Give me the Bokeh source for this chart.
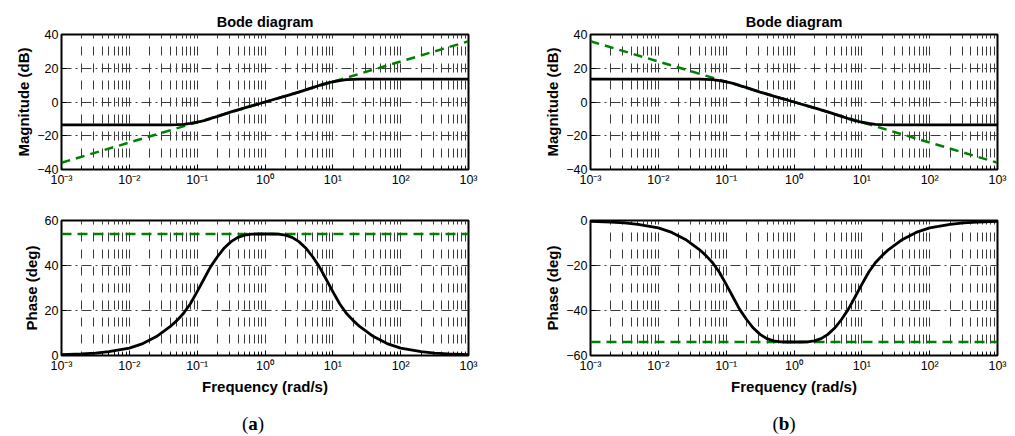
from bokeh.plotting import figure
from bokeh.layouts import column, row
from bokeh.models import FixedTicker, CustomJSTickFormatter, Div, Range1d
from bokeh.embed import file_html
from bokeh.resources import INLINE

# ---------------- data ----------------
freq = [0.001, 0.002, 0.00316, 0.005, 0.01, 0.0158, 0.0251, 0.0398, 0.0501, 0.0631, 0.0794,
        0.1, 0.126, 0.158, 0.2, 0.251, 0.316, 0.398, 0.501, 0.631, 0.794,
        1.0,
        1.26, 1.58, 2.0, 2.51, 3.16, 3.98, 5.01, 6.31, 7.94, 10.0,
        12.6, 15.8, 20.0, 25.1, 39.8, 63.1, 100.0, 200.0, 316.0, 500.0, 1000.0]

mag_a = [-13.6, -13.6, -13.6, -13.6, -13.6, -13.6, -13.6, -13.5, -13.4, -13.2, -12.7,
         -12.0, -11.0, -9.8, -8.5, -7.2, -5.9, -4.7, -3.5, -2.3, -1.2,
         0.0,
         1.2, 2.3, 3.5, 4.7, 5.9, 7.2, 8.5, 9.8, 11.0, 12.0,
         12.7, 13.2, 13.4, 13.5, 13.6, 13.6, 13.6, 13.6, 13.6, 13.6, 13.6]
phase_a = [0.35, 0.7, 1.1, 1.7, 3.3, 5.3, 8.4, 12.8, 15.5, 18.8, 23.0,
           28.4, 34.0, 39.5, 44.0, 47.8, 50.6, 52.5, 53.5, 53.9, 54.0,
           54.0,
           54.0, 53.9, 53.5, 52.5, 50.6, 47.8, 44.0, 39.5, 34.0, 28.4,
           23.0, 18.8, 15.5, 12.8, 8.4, 5.3, 3.3, 1.7, 1.1, 0.7, 0.35]

mag_b = [13.6, 13.6, 13.6, 13.6, 13.6, 13.6, 13.6, 13.5, 13.4, 13.2, 12.7,
         12.0, 11.0, 9.8, 8.5, 7.2, 5.9, 4.7, 3.5, 2.3, 1.2,
         0.0,
         -1.2, -2.3, -3.5, -4.7, -5.9, -7.2, -8.5, -9.8, -11.0, -12.0,
         -12.7, -13.2, -13.4, -13.5, -13.6, -13.6, -13.6, -13.6, -13.6, -13.6, -13.6]
phase_b = [-0.35, -0.7, -1.1, -1.7, -3.3, -5.3, -8.4, -12.8, -15.5, -18.8, -23.0,
           -28.4, -34.0, -39.5, -44.0, -47.8, -50.6, -52.5, -53.5, -53.9, -54.0,
           -54.0,
           -54.0, -53.9, -53.5, -52.5, -50.6, -47.8, -44.0, -39.5, -34.0, -28.4,
           -23.0, -18.8, -15.5, -12.8, -8.4, -5.3, -3.3, -1.7, -1.1, -0.7, -0.35]

ideal_freq = [0.001, 1000.0]
ideal_mag_a = [-36.0, 36.0]
ideal_phase_a = [54.0, 54.0]
ideal_mag_b = [36.0, -36.0]
ideal_phase_b = [-54.0, -54.0]

decade_ticks = [0.001, 0.01, 0.1, 1.0, 10.0, 100.0, 1000.0]
minor_x_ticks = [m * 10.0 ** k for k in range(-3, 3) for m in range(2, 10)]
mag_ticks = [-40, -20, 0, 20, 40]
phase_ticks_a = [0, 20, 40, 60]
phase_ticks_b = [-60, -40, -20, 0]

title_text = "Bode diagram"
mag_label = "Magnitude (dB)"
phase_label = "Phase (deg)"
freq_label = "Frequency (rad/s)"

FONT = "Liberation Sans"
GREEN = "#008000"
GRID = "#3a3a3a"

xfmt_code = """
const e = Math.round(Math.log10(tick));
const sup = {"-": "\u207b", "0": "\u2070", "1": "\u00b9", "2": "\u00b2", "3": "\u00b3",
             "4": "\u2074", "5": "\u2075", "6": "\u2076", "7": "\u2077", "8": "\u2078", "9": "\u2079"};
let s = "";
for (const c of String(e)) s += sup[c];
return "10" + s;
"""
yfmt_code = """
return tick < 0 ? "\u2212" + (-tick) : "" + tick;
"""


def panel(width, height, left, right, top, bottom, yr, yticks, title=None, xlabel=None, ylabel=None):
    p = figure(width=width, height=height, x_axis_type="log",
               x_range=Range1d(0.001, 1000), y_range=Range1d(*yr),
               output_backend="svg", toolbar_location=None,
               min_border_left=left, min_border_right=right,
               min_border_top=top, min_border_bottom=bottom)
    p.background_fill_color = "white"
    p.border_fill_color = "white"
    p.outline_line_color = "black"
    p.outline_line_width = 2
    if title:
        p.title.text = title
        p.title.align = "center"
        p.title.text_font = FONT
        p.title.text_font_size = "14.5px"
        p.title.text_font_style = "bold"
        p.title.text_color = "black"
        p.title.standoff = 10

    xt = FixedTicker(ticks=decade_ticks, minor_ticks=minor_x_ticks)
    p.xaxis.ticker = xt
    p.xaxis.formatter = CustomJSTickFormatter(code=xfmt_code)
    p.yaxis.ticker = FixedTicker(ticks=yticks)
    p.yaxis.formatter = CustomJSTickFormatter(code=yfmt_code)
    for ax in (p.xaxis[0], p.yaxis[0]):
        ax.axis_line_color = None
        ax.major_tick_in = 5
        ax.major_tick_out = 0
        ax.minor_tick_in = 3
        ax.minor_tick_out = 0
        ax.major_tick_line_color = "black"
        ax.minor_tick_line_color = "black"
        ax.major_label_text_font = FONT
        ax.major_label_text_font_size = "12.5px"
        ax.major_label_text_color = "black"
        ax.major_label_standoff = 3
        ax.axis_label_text_font = FONT
        ax.axis_label_text_font_size = "15px"
        ax.axis_label_text_font_style = "bold"
        ax.axis_label_text_color = "black"
        ax.axis_label_standoff = 2
    p.yaxis.minor_tick_line_color = None
    if xlabel:
        p.xaxis.axis_label = xlabel
    if ylabel:
        p.yaxis.axis_label = ylabel

    p.xgrid.ticker = xt
    p.xgrid.grid_line_color = GRID
    p.xgrid.grid_line_width = 1
    p.xgrid.grid_line_dash = "9 8"
    p.xgrid.grid_line_dash_offset = 5
    p.xgrid.minor_grid_line_color = GRID
    p.xgrid.minor_grid_line_width = 1
    p.xgrid.minor_grid_line_dash = "9 8"
    p.xgrid.minor_grid_line_dash_offset = 5
    p.ygrid.ticker = FixedTicker(ticks=yticks)
    p.ygrid.grid_line_color = GRID
    p.ygrid.grid_line_width = 1
    p.ygrid.grid_line_dash = "10 4 2 4"
    return p


def caption(letter, width):
    html = ('<div style="width:%dpx;text-align:center;font-family:\'Liberation Serif\',serif;'
            'font-size:19px;line-height:20px;color:black;padding-top:9px">(<b>%s</b>)</div>' % (width, letter))
    return Div(text=html, width=width, height=36)


# ---- column (a)
fa1 = panel(530, 192, 61, 62, 34, 23, (-40, 40), mag_ticks, title=title_text, ylabel=mag_label)
fa1.line(ideal_freq, ideal_mag_a, line_color=GREEN, line_width=2.5, line_dash="9 6")
fa1.line(freq, mag_a, line_color="black", line_width=2.8)

fa2 = panel(530, 208, 61, 62, 28, 45, (0, 60), phase_ticks_a, xlabel=freq_label, ylabel=phase_label)
fa2.line(ideal_freq, ideal_phase_a, line_color=GREEN, line_width=2.5, line_dash="10 6")
fa2.line(freq, phase_a, line_color="black", line_width=2.8)

# ---- column (b)
fb1 = panel(485, 192, 60, 18, 34, 23, (-40, 40), mag_ticks, title=title_text, ylabel=mag_label)
fb1.line(ideal_freq, ideal_mag_b, line_color=GREEN, line_width=2.5, line_dash="9 6")
fb1.line(freq, mag_b, line_color="black", line_width=2.8)

fb2 = panel(485, 208, 60, 18, 28, 45, (-60, 0), phase_ticks_b, xlabel=freq_label, ylabel=phase_label)
fb2.line(ideal_freq, ideal_phase_b, line_color=GREEN, line_width=2.5, line_dash="10 6")
fb2.line(freq, phase_b, line_color="black", line_width=2.8)

layout = row(column(fa1, fa2, caption("a", 496)),
             column(fb1, fb2, caption("b", 498)))

open("out.html", "w").write(file_html(layout, INLINE))
